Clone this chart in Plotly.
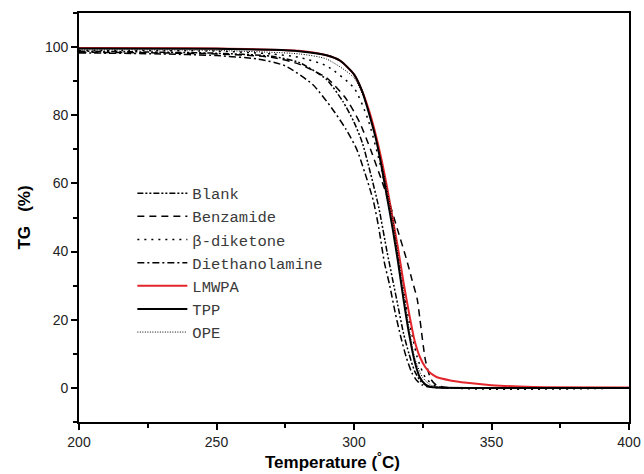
import plotly.graph_objects as go

# ---- data ----
blank_T = [200, 250, 270, 280, 290, 296, 300, 303, 306, 309, 312, 314, 316, 318, 320, 322, 324, 326, 329, 400]
blank_TG = [98.8, 98.2, 97.3, 95.5, 90.5, 84, 78, 72, 63, 53, 40, 32, 24, 16, 10, 5, 2.2, 0.8, 0.2, 0]

benz_T = [200, 250, 270, 280, 290, 297, 302, 306, 310, 313, 316, 319, 321, 323, 324, 326, 328, 330, 333, 400]
benz_TG = [98.5, 98.0, 97.0, 95.0, 91.0, 85, 78, 70, 61, 54, 46, 38, 32, 26, 20, 8, 2.5, 0.8, 0.2, 0]

diket_T = [200, 250, 270, 280, 290, 300, 305, 310, 315, 319, 323, 326, 330, 400]
diket_TG = [99.0, 98.8, 98.0, 97.0, 94.5, 88, 79, 64, 44, 24, 9, 3, 0.5, 0]

dieth_T = [200, 230, 250, 265, 275, 285, 292, 297, 301, 304, 307, 309, 311, 313, 315, 317, 319, 321, 323, 325, 328, 400]
dieth_TG = [98.3, 98.0, 97.5, 96.5, 94.5, 89, 82, 76, 70, 63, 55, 47, 37, 30, 22, 15, 9, 4.5, 2, 0.8, 0.2, 0]

lmwpa_T = [200, 250, 280, 290, 295, 300, 303, 306, 308, 310, 312, 314, 316, 318, 320, 322, 324, 326, 328, 330, 335, 341, 350, 360, 370, 400]
lmwpa_TG = [99.7, 99.6, 98.9, 97.6, 96, 92, 87, 80, 74, 67, 59, 50, 41, 31, 22, 14, 9, 6, 4.2, 3.2, 2.2, 1.5, 0.8, 0.4, 0.2, 0.1]

tpp_T = [200, 250, 270, 280, 290, 295, 300, 303, 306, 308, 310, 312, 314, 316, 318, 320, 322, 324, 326, 328, 330, 400]
tpp_TG = [99.6, 99.5, 99.2, 98.8, 97.6, 96, 92, 87, 79, 73, 65, 56, 47, 37, 26, 16, 8, 3, 1, 0.3, 0.1, 0]

ope_T = [200, 250, 280, 290, 300, 305, 310, 314, 318, 322, 325, 328, 332, 400]
ope_TG = [99.2, 99.0, 98.0, 96.5, 91, 82, 66, 50, 28, 9, 3, 0.8, 0.2, 0]

series = [
    ("Blank", blank_T, blank_TG, "black", 1.5, "6px,2px,2px,2px,2px,2px"),
    ("Benzamide", benz_T, benz_TG, "black", 1.5, "7px,5px"),
    ("β-diketone", diket_T, diket_TG, "black", 1.5, "2px,5px"),
    ("Diethanolamine", dieth_T, dieth_TG, "black", 1.5, "7px,3px,2px,3px"),
    ("LMWPA", lmwpa_T, lmwpa_TG, "#e3262c", 2, "solid"),
    ("TPP", tpp_T, tpp_TG, "black", 2, "solid"),
    ("OPE", ope_T, ope_TG, "black", 1, "1px,1.5px"),
]

fig = go.Figure()
for name, x, y, color, w, dash in series:
    fig.add_trace(go.Scatter(x=x, y=y, mode="lines", name=name,
                             line=dict(color=color, width=w, dash=dash, shape="spline", smoothing=0.6)))

axis_common = dict(showline=True, linecolor="black", linewidth=1.8, mirror=True,
                   ticks="outside", ticklen=6, tickwidth=1.5, tickcolor="black",
                   showgrid=False, zeroline=False, automargin=False,
                   tickfont=dict(family="Liberation Sans, Arial", size=14, color="#222"))

fig.update_xaxes(range=[200, 400], tickvals=[200, 250, 300, 350, 400],
                 minor=dict(tickvals=[225, 275, 325, 375], ticks="outside", ticklen=4, tickwidth=1.5, tickcolor="black"),
                 **axis_common)
fig.update_yaxes(range=[-10, 110], tickvals=[0, 20, 40, 60, 80, 100],
                 minor=dict(tickvals=[-10, 10, 30, 50, 70, 90, 110], ticks="outside", ticklen=4, tickwidth=1.5, tickcolor="black"),
                 title=dict(text="<b>TG&nbsp;&nbsp;&nbsp;(%)</b>", font=dict(family="Liberation Sans, Arial", size=17, color="black"), standoff=10),
                 **axis_common)

fig.add_annotation(text="<b>Temperature (<sup>°</sup>C)</b>", xref="paper", yref="paper",
                   x=0.46, y=-0.095, xanchor="center", yanchor="middle", showarrow=False,
                   font=dict(family="Liberation Sans, Arial", size=17, color="black"))

fig.update_layout(
    width=644, height=474,
    margin=dict(l=79, r=15, t=13, b=52),
    paper_bgcolor="white", plot_bgcolor="white",
    showlegend=True,
    legend=dict(x=0.097, y=0.60, xanchor="left", yanchor="top",
                bgcolor="rgba(0,0,0,0)", itemwidth=50,
                font=dict(family="Liberation Mono, monospace", size=15.5, color="#3a3a3a"),
                tracegroupgap=0),
)

fig.write_html("out.html", config={"displayModeBar": False},
               post_script="document.body.style.margin='0';document.body.style.overflow='hidden';")
